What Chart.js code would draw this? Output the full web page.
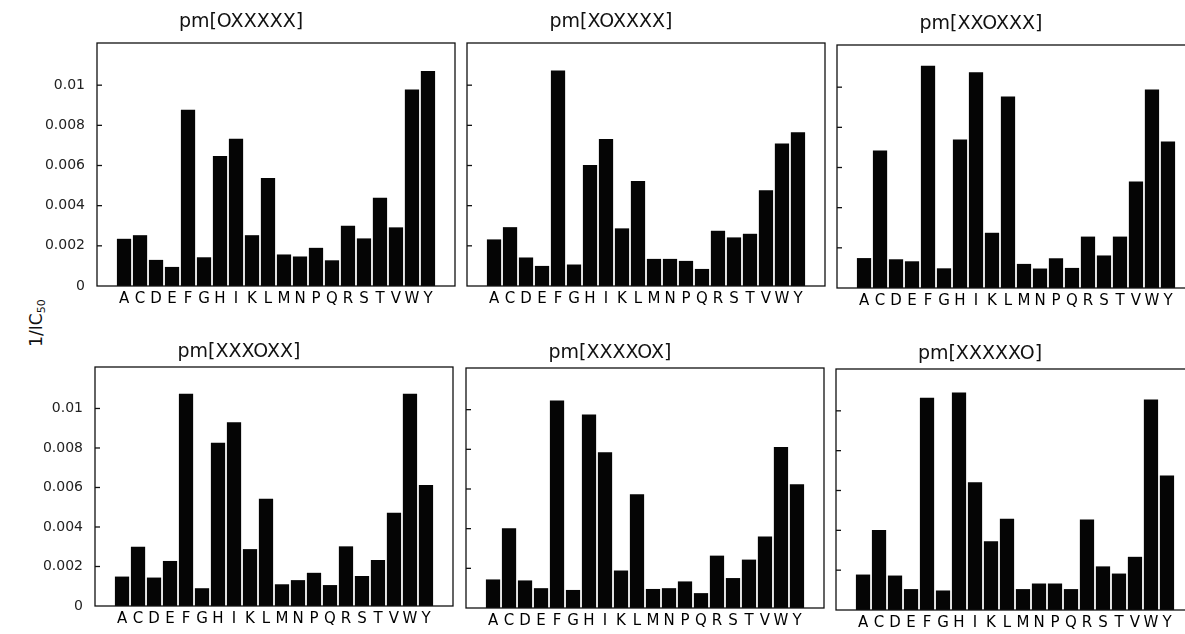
<!DOCTYPE html>
<html lang="en">
<head>
<meta charset="UTF-8">
<title>pm scan 1/IC50</title>
<style>
  * { box-sizing: border-box; margin: 0; padding: 0; }
  html, body { width: 1185px; height: 634px; overflow: hidden; background: #fff; }
  body { position: relative; font-family: "DejaVu Sans", sans-serif; }
  .panel { position: absolute; }
  .ytitle { position: absolute; left: 37px; top: 323px; transform: translate(-50%, -50%) rotate(-90deg);
            font-size: 17px; color: #111; white-space: nowrap; }
  .ytitle sub { font-size: 11px; vertical-align: -3px; }
</style>
</head>
<body>
<div class="ytitle">1/IC<sub>50</sub></div>
<script src="https://cdn.jsdelivr.net/npm/chart.js@4.4.0/dist/chart.umd.min.js"></script>
<script>
// ── Data ─────────────────────────────────────────────────────────────────────
const letters = ["A","C","D","E","F","G","H","I","K","L","M","N","P","Q","R","S","T","V","W","Y"];
const yTicks = [0, 0.002, 0.004, 0.006, 0.008, 0.01];
const titles = ["pm[OXXXXX]", "pm[XOXXXX]", "pm[XXOXXX]", "pm[XXXOXX]", "pm[XXXXOX]", "pm[XXXXXO]"];

const pos1 = [0.00235, 0.00253, 0.0013, 0.00095, 0.00878, 0.00143, 0.00647, 0.00733, 0.00253, 0.00538,
              0.00157, 0.00147, 0.0019, 0.00128, 0.003, 0.00237, 0.0044, 0.00292, 0.00978, 0.0107];
const pos2 = [0.00232, 0.00293, 0.00142, 0.001, 0.01073, 0.00107, 0.00603, 0.00732, 0.00287, 0.00523,
              0.00135, 0.00135, 0.00125, 0.00085, 0.00275, 0.00242, 0.0026, 0.00477, 0.0071, 0.00765];
const pos3 = [0.00149, 0.00685, 0.00143, 0.00133, 0.01107, 0.00098, 0.0074, 0.01074, 0.00275, 0.00954,
              0.0012, 0.00097, 0.00148, 0.001, 0.00256, 0.00162, 0.00256, 0.0053, 0.00989, 0.0073];
const pos4 = [0.00149, 0.003, 0.00144, 0.00228, 0.01074, 0.0009, 0.00826, 0.0093, 0.00288, 0.00543,
              0.0011, 0.00131, 0.00168, 0.00106, 0.00302, 0.00152, 0.00233, 0.00472, 0.01074, 0.00613];
const pos5 = [0.00144, 0.00402, 0.00139, 0.001, 0.01046, 0.00091, 0.00976, 0.00785, 0.00189, 0.00573,
              0.00096, 0.001, 0.00134, 0.00075, 0.00264, 0.00151, 0.00244, 0.0036, 0.00812, 0.00624];
const pos6 = [0.00178, 0.00402, 0.00173, 0.00105, 0.01066, 0.00098, 0.01092, 0.00641, 0.00345, 0.00458,
              0.00105, 0.00133, 0.00133, 0.00105, 0.00455, 0.00219, 0.00183, 0.00267, 0.01057, 0.00675];
const series = [pos1, pos2, pos3, pos4, pos5, pos6];

// ── Layout of the six panels (plot box in page pixels) ───────────────────────
const AXW = 70, XAH = 30, PLOTW = 358;
const panels = [
  { left: 97,  top: 43,  h: 243, titleX: 247,  titleH: 32, showY: true  },
  { left: 467, top: 43,  h: 243, titleX: 622,  titleH: 32, showY: false },
  { left: 837, top: 45,  h: 243, titleX: 994,  titleH: 32, showY: false },
  { left: 95,  top: 367, h: 239, titleX: 250,  titleH: 26, showY: true  },
  { left: 466, top: 368, h: 240, titleX: 619,  titleH: 26, showY: false },
  { left: 836, top: 369, h: 241, titleX: 1086, titleH: 26, showY: false },
];

const FONT = "'DejaVu Sans', 'Liberation Sans', sans-serif";
const TITLE_SIZE = 19;

// frame around the plot area plus short inward ticks on the left edge
const boxPlugin = {
  id: "box",
  afterDatasetsDraw(chart) {
    const { ctx, chartArea: a, scales: { y } } = chart;
    ctx.save();
    ctx.strokeStyle = "#111";
    ctx.lineWidth = 1.3;
    ctx.strokeRect(a.left, a.top, a.width, a.height);
    for (const t of yTicks) {
      if (!t) continue;
      const py = y.getPixelForValue(t);
      ctx.beginPath();
      ctx.moveTo(a.left, py);
      ctx.lineTo(a.left + 5, py);
      ctx.stroke();
    }
    ctx.restore();
  },
};

panels.forEach((p, k) => {
  const cLeft = p.left - AXW;
  const cWidth = Math.round(2 * (p.titleX - cLeft));
  const cTop = p.top - p.titleH;
  const cHeight = p.titleH + p.h + XAH;

  const wrap = document.createElement("div");
  wrap.className = "panel";
  Object.assign(wrap.style, { left: cLeft + "px", top: cTop + "px", width: cWidth + "px", height: cHeight + "px" });
  const canvas = document.createElement("canvas");
  wrap.appendChild(canvas);
  document.body.appendChild(wrap);

  new Chart(canvas, {
    type: "bar",
    data: {
      datasets: [{
        data: series[k].map((v, i) => ({ x: i, y: v })),
        backgroundColor: "#050505",
        borderWidth: 0,
        categoryPercentage: 1,
        barPercentage: 0.89,
      }],
    },
    options: {
      responsive: true,
      maintainAspectRatio: false,
      animation: false,
      layout: { padding: { left: 0, top: 0, bottom: 0, right: cWidth - AXW - PLOTW } },
      plugins: {
        legend: { display: false },
        tooltip: { enabled: false },
        title: {
          display: true,
          text: titles[k],
          color: "#111",
          font: { family: FONT, size: TITLE_SIZE, weight: "normal" },
          padding: { top: 0, bottom: p.titleH - TITLE_SIZE * 1.2 },
        },
      },
      scales: {
        x: {
          type: "linear",
          min: -1.13,
          max: 20.13,
          grid: { display: false, drawTicks: false },
          border: { display: false },
          afterBuildTicks: (s) => { s.ticks = letters.map((_, i) => ({ value: i })); },
          afterFit: (s) => { s.height = XAH; },
          ticks: {
            autoSkip: false,
            maxRotation: 0,
            padding: 4,
            color: "#000",
            font: { family: FONT, size: 15 },
            callback: (v) => letters[v] ?? "",
          },
        },
        y: {
          min: 0,
          max: 0.0121,
          grid: { display: false, drawTicks: false },
          border: { display: false },
          afterBuildTicks: (s) => { s.ticks = yTicks.map((v) => ({ value: v })); },
          afterFit: (s) => { s.width = AXW; },
          ticks: {
            display: p.showY,
            padding: 12,
            color: "#222",
            font: { family: FONT, size: 14 },
            callback: (v) => (v === 0 ? "0" : String(+v.toFixed(3))),
          },
        },
      },
    },
    plugins: [boxPlugin],
  });
});
</script>
</body>
</html>
